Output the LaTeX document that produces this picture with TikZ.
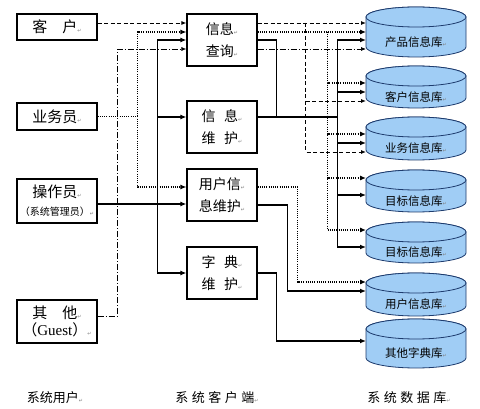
\documentclass[tikz,border=0pt]{standalone}
\usepackage{fontspec}
\setmainfont{Noto Sans CJK SC}
\newfontfamily\latfont{Liberation Serif}
\newfontfamily\pmfont{DejaVu Sans}
\usetikzlibrary{arrows.meta}
\definecolor{dbfill}{RGB}{160,205,245}
\definecolor{dbline}{RGB}{30,60,110}
\newcommand\pmk{{\pmfont\fontsize{5}{5}\selectfont\textcolor{gray}{↵}}}
\newcommand\dbcyl[4]{%
  \filldraw[dbcyl] (366,#2+10) -- (366,#3-10) arc[start angle=180,end angle=360,x radius=50pt,y radius=10pt] -- (466,#2+10) arc[start angle=0,end angle=180,x radius=50pt,y radius=10pt] -- cycle;
  \filldraw[dbcyl] (416,#2+10) ellipse[x radius=50pt,y radius=10pt];
  \node[dblabel] (#1) at (416,{(#2+#3)/2+10}) {#4};
}
\begin{document}
\begin{tikzpicture}[x=1pt,y=-1pt,
  bx/.style={draw,line width=1.2pt,inner sep=0pt,align=center},
  userbox/.style={bx,minimum width=80pt,font=\fontsize{15}{19}\selectfont},
  clientbox/.style={bx,minimum width=70pt,minimum height=52pt,font=\fontsize{14}{22}\selectfont},
  dblabel/.style={font=\fontsize{11.5}{12}\selectfont,inner sep=0pt},
  dbcyl/.style={draw=dbline,fill=dbfill,line width=0.8pt},
  arr/.style={-{Latex[length=6pt,width=5pt]}},
  sarr/.style={-{Latex[length=5pt,width=4pt]}},
  lsol/.style={line width=1.4pt},
  ldot/.style={line width=1.1pt,dash pattern=on 1pt off 1.2pt},
  ldsh/.style={line width=0.9pt,dash pattern=on 4pt off 2.5pt},
  ldd/.style={line width=0.7pt,dash pattern=on 6pt off 2pt on 1pt off 2pt},
  capt/.style={font=\fontsize{13}{13}\selectfont,inner sep=0pt}]
\useasboundingbox (0,0) rectangle (480,409);
\fill[white] (0,0) rectangle (480,409);

% users
\node[userbox,minimum height=26pt] (kh) at (57,27) {客　户\pmk};
\node[userbox,minimum height=27pt] (ywy) at (57,116.5) {业务员\pmk};
\node[userbox,minimum height=44pt] (czy) at (57,201) {操作员\pmk\\[-1pt]{\fontsize{10}{12}\selectfont（系统管理员）\pmk}};
\node[userbox,minimum height=43pt] (qt) at (57,321.5) {其　他\pmk\\[-2pt]（{\latfont Guest}）\pmk};

% clients
\node[clientbox] (cx) at (222,40) {信息\pmk\\查询\pmk};
\node[clientbox] (wh) at (222,127) {信\hspace{0.6em}息\pmk\\维\hspace{0.6em}护\pmk};
\node[clientbox] (yh) at (222,195) {用户信\pmk\\息维护\pmk};
\node[clientbox] (zd) at (222,273) {字\hspace{0.6em}典\pmk\\维\hspace{0.6em}护\pmk};

% databases
\dbcyl{db1}{7}{57}{产品信息库\pmk}
\dbcyl{db2}{66}{108}{客户信息库\pmk}
\dbcyl{db3}{117}{160}{业务信息库\pmk}
\dbcyl{db4}{170}{212}{目标信息库\pmk}
\dbcyl{db5}{222}{263}{目标信息库\pmk}
\dbcyl{db6}{273}{316}{用户信息库\pmk}
\dbcyl{db7}{319}{368}{其他字典库\pmk}

% ports on databases
\coordinate (p1a) at (366,23);
\coordinate (p1b) at (366,32);
\coordinate (p1c) at (366,40);
\coordinate (p1d) at (366,49);
\coordinate (p2a) at (366,83);
\coordinate (p2b) at (366,92);
\coordinate (p2c) at (366,101);
\coordinate (p3a) at (366,134);
\coordinate (p3b) at (366,143);
\coordinate (p3c) at (366,152);
\coordinate (p4a) at (366,178);
\coordinate (p4b) at (366,195);
\coordinate (p5a) at (366,230);
\coordinate (p5b) at (366,247);
\coordinate (p6a) at (366,282);
\coordinate (p6b) at (366,291);
\coordinate (p7a) at (366,341);

% captions
\node[capt] (c1) at (55,398) {系统用户\pmk};
\node[capt] (c2) at (217,398) {系\hspace{3.5pt}统\hspace{3.5pt}客\hspace{3.5pt}户\hspace{3.5pt}端\pmk};
\node[capt] (c3) at (409,398) {系\hspace{3.5pt}统\hspace{3.5pt}数\hspace{3.5pt}据\hspace{3.5pt}库\pmk};

% left side connectors
\draw[ldsh,sarr] ([yshift=4pt]kh.east) -- ([yshift=17pt]cx.west);

\path (ywy.east) ++(40,0) coordinate (bdot);
\draw[ldot] (ywy.east) -- (bdot);
\draw[ldot,arr] (bdot) |- ([yshift=8pt]cx.west);
\draw[ldot,arr] (bdot) |- ([yshift=8pt]yh.west);

\path ([yshift=-3pt]czy.east) ++(60,0) coordinate (bsol);
\draw[lsol,arr] ([yshift=-3pt]czy.east) -- ([yshift=-9pt]yh.west);
\draw[lsol,arr] (bsol) |- (cx.west);
\draw[lsol,arr] (bsol) |- ([yshift=10pt]wh.west);
\draw[lsol,arr] (bsol) |- (zd.west);

\draw[ldd,sarr] ([yshift=5.5pt]qt.east) -- ++(20,0) |- ([yshift=-9pt]cx.west);

% right side connectors
\draw[ldsh,sarr] ([yshift=17pt]cx.east) -- (p1a);
\path ([yshift=17pt]cx.east) ++(48,0) coordinate (vdsh);
\draw[ldsh,sarr] (vdsh) |- (p2c);
\draw[ldsh,sarr] (vdsh) |- (p3c);

\draw[ldot,arr] ([yshift=8pt]cx.east) -- (p1b);
\path ([yshift=8pt]cx.east) ++(70,0) coordinate (vdot);
\draw[ldot,arr] (vdot) |- (p2a);
\draw[ldot,arr] (vdot) |- (p3a);
\draw[ldot,arr] (vdot) |- (p4a);
\draw[ldot,arr] (vdot) |- (p5a);

\draw[lsol] (cx.east) -- ++(19,0) |- ([yshift=10pt]wh.east);
\path ([yshift=10pt]wh.east) ++(80,0) coordinate (vsol);
\draw[lsol] ([yshift=10pt]wh.east) -- (vsol);
\draw[lsol,arr] (vsol) |- (p1c);
\draw[lsol,arr] (vsol) |- (p2b);
\draw[lsol,arr] (vsol) |- (p3b);
\draw[lsol,arr] (vsol) |- (p4b);
\draw[lsol,arr] (vsol) |- (p5b);

\draw[ldd,sarr] ([yshift=-9pt]cx.east) -- (p1d);

\draw[ldot,arr] ([yshift=8pt]yh.east) -- ++(40,0) |- (p6a);
\draw[lsol,arr] ([yshift=-10pt]yh.east) -- ++(30,0) |- (p6b);
\draw[lsol,arr] (zd.east) -- ++(19,0) |- (p7a);
\end{tikzpicture}
\end{document}
